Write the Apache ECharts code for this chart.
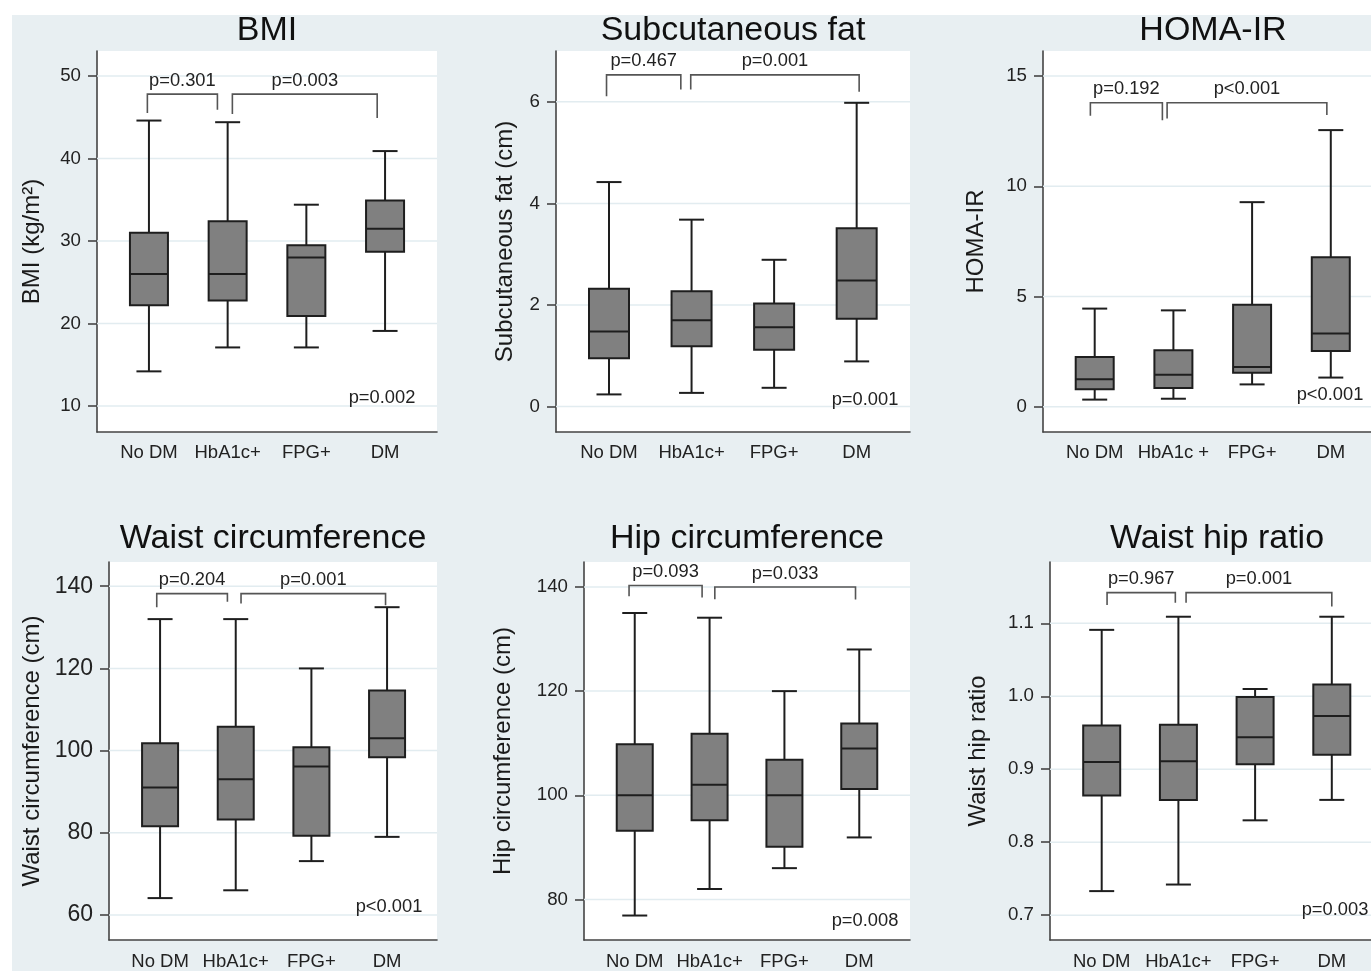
<!DOCTYPE html>
<html>
<head>
<meta charset="utf-8">
<script src="https://cdn.jsdelivr.net/npm/echarts@6/dist/echarts.min.js"></script>
<style>
  html, body { margin: 0; padding: 0; background: #fff; }
  #bg { position: absolute; left: 12px; top: 15px; right: 0; bottom: 0; background: #e8eff2; }
  #chart { position: absolute; left: 0; top: 0; width: 1371px; height: 971px; }
</style>
</head>
<body>
<div id="bg"></div>
<div id="chart"></div>
<script>
const FONT = '"Liberation Sans", Arial, sans-serif';

const groups = ['No DM', 'HbA1c+', 'FPG+', 'DM'];
const homaGroups = ['No DM', 'HbA1c +', 'FPG+', 'DM'];

// min, Q1, median, Q3, max for each group
const bmiBox = [
  [14.2, 22.2, 26.0, 31.0, 44.6],
  [17.1, 22.8, 26.0, 32.4, 44.4],
  [17.1, 20.9, 28.0, 29.5, 34.4],
  [19.1, 28.7, 31.5, 34.9, 40.9]
];
const fatBox = [
  [0.24, 0.95, 1.48, 2.32, 4.42],
  [0.27, 1.19, 1.70, 2.27, 3.68],
  [0.37, 1.12, 1.56, 2.03, 2.89],
  [0.89, 1.73, 2.48, 3.51, 5.98]
];
const homaBox = [
  [0.32, 0.79, 1.24, 2.25, 4.45],
  [0.36, 0.85, 1.45, 2.56, 4.37],
  [1.01, 1.54, 1.80, 4.63, 9.28],
  [1.32, 2.53, 3.32, 6.78, 12.55]
];
const waistBox = [
  [64.1, 81.6, 91.0, 101.8, 132.0],
  [66.0, 83.2, 93.0, 105.8, 132.0],
  [73.1, 79.3, 96.1, 100.8, 120.0],
  [79.0, 98.4, 103.0, 114.6, 134.9]
];
const hipBox = [
  [76.9, 93.2, 100.0, 109.8, 135.0],
  [82.0, 95.2, 102.0, 111.8, 134.1],
  [86.0, 90.1, 100.0, 106.8, 120.0],
  [91.9, 101.2, 109.0, 113.8, 128.0]
];
const whrBox = [
  [0.733, 0.864, 0.910, 0.960, 1.091],
  [0.742, 0.858, 0.911, 0.961, 1.109],
  [0.830, 0.907, 0.944, 0.999, 1.010],
  [0.858, 0.920, 0.973, 1.016, 1.109]
];

const bmiTicks = [10, 20, 30, 40, 50];
const fatTicks = [0, 2, 4, 6];
const homaTicks = [0, 5, 10, 15];
const waistTicks = [60, 80, 100, 120, 140];
const hipTicks = [80, 100, 120, 140];
const whrTicks = [0.7, 0.8, 0.9, 1.0, 1.1];

// No DM vs HbA1c+, HbA1c+ vs DM, overall
const bmiP = ['p=0.301', 'p=0.003', 'p=0.002'];
const fatP = ['p=0.467', 'p=0.001', 'p=0.001'];
const homaP = ['p=0.192', 'p<0.001', 'p<0.001'];
const waistP = ['p=0.204', 'p=0.001', 'p<0.001'];
const hipP = ['p=0.093', 'p=0.033', 'p=0.008'];
const whrP = ['p=0.967', 'p=0.001', 'p=0.003'];

// layout of each panel; brackets are [xLeft, xRight, yTop, yLeftEnd, yRightEnd]
// right-hand panels run off the page edge, so their x range stops at the edge
const panels = [
  { title: 'BMI', yName: 'BMI (kg/m²)', cats: groups, box: bmiBox, ticks: bmiTicks, p: bmiP,
    grid: [97, 51, 340, 381], xr: [0.34, 4.66], yr: [6.85, 53.03], boxW: 38, nameGap: 53, tickFont: 18.7,
    titlePos: [267, 30.5], overallPos: [382, 398],
    brackets: [[0.98, 1.87, 47.8, 45.5, 45.9], [2.06, 3.90, 47.8, 45.4, 44.9]] },
  { title: 'Subcutaneous fat', yName: 'Subcutaneous fat (cm)', cats: groups, box: fatBox, ticks: fatTicks, p: fatP,
    grid: [556, 51, 354, 381], xr: [0.358, 4.646], yr: [-0.5, 7.0], boxW: 40, nameGap: 39, tickFont: 18.7,
    titlePos: [733, 30.5], overallPos: [865, 400],
    brackets: [[0.97, 1.87, 6.53, 6.11, 6.24], [1.99, 4.03, 6.53, 6.24, 6.20]] },
  { title: 'HOMA-IR', yName: 'HOMA-IR', cats: homaGroups, box: homaBox, ticks: homaTicks, p: homaP,
    grid: [1043, 51, 328, 381], xr: [0.343, 4.511], yr: [-1.15, 16.14], boxW: 38, nameGap: 55, tickFont: 18.7,
    titlePos: [1213, 30.5], overallPos: [1330, 395],
    brackets: [[0.945, 1.86, 13.79, 13.2, 13.0], [1.92, 3.95, 13.79, 13.08, 13.23]] },
  { title: 'Waist circumference', yName: 'Waist circumference (cm)', cats: groups, box: waistBox, ticks: waistTicks, p: waistP,
    grid: [109, 562, 328, 380], xr: [0.325, 4.66], yr: [53.9, 145.9], boxW: 36, nameGap: 65, tickFont: 23,
    titlePos: [273, 538.5], overallPos: [389, 906.5],
    brackets: [[0.956, 1.89, 138.2, 134.9, 136.2], [2.07, 3.98, 138.2, 135.8, 135.4]] },
  { title: 'Hip circumference', yName: 'Hip circumference (cm)', cats: groups, box: hipBox, ticks: hipTicks, p: hipP,
    grid: [584, 562, 326, 380], xr: [0.322, 4.678], yr: [72.2, 144.8], boxW: 36, nameGap: 69, tickFont: 18.7,
    titlePos: [747, 538.5], overallPos: [865, 921],
    brackets: [[0.924, 1.90, 140.3, 138.2, 138.0], [2.07, 3.95, 140.0, 137.65, 137.6]] },
  { title: 'Waist hip ratio', yName: 'Waist hip ratio', cats: groups, box: whrBox, ticks: whrTicks, p: whrP,
    grid: [1050, 562, 321, 380], xr: [0.326, 4.511], yr: [0.666, 1.184], boxW: 37, nameGap: 60, tickFont: 18.7,
    titlePos: [1217, 538.5], overallPos: [1335, 909.5], decimals: 1,
    brackets: [[1.07, 1.96, 1.142, 1.125, 1.128], [2.10, 4.00, 1.142, 1.128, 1.123]] }
];

const CAP_W = 25;
const INK = '#1e1e1e';
const AXIS = '#444';

function gridLineItem(params, api) {
  const p = api.coord([api.value(0), api.value(1)]);
  const cs = params.coordSys;
  return {
    type: 'line',
    shape: { x1: cs.x, y1: p[1], x2: cs.x + cs.width, y2: p[1] },
    style: { stroke: '#e2ecf0', lineWidth: 1.5 }
  };
}

function boxItem(boxW) {
  return function (params, api) {
    const x = api.value(0);
    const pMin = api.coord([x, api.value(1)]);
    const pQ1 = api.coord([x, api.value(2)]);
    const pMed = api.coord([x, api.value(3)]);
    const pQ3 = api.coord([x, api.value(4)]);
    const pMax = api.coord([x, api.value(5)]);
    const cx = pMin[0];
    const ln = { stroke: INK, lineWidth: 2 };
    return {
      type: 'group',
      children: [
        { type: 'line', shape: { x1: cx, y1: pMax[1], x2: cx, y2: pQ3[1] }, style: ln },
        { type: 'line', shape: { x1: cx, y1: pQ1[1], x2: cx, y2: pMin[1] }, style: ln },
        { type: 'line', shape: { x1: cx - CAP_W / 2, y1: pMax[1], x2: cx + CAP_W / 2, y2: pMax[1] }, style: ln },
        { type: 'line', shape: { x1: cx - CAP_W / 2, y1: pMin[1], x2: cx + CAP_W / 2, y2: pMin[1] }, style: ln },
        { type: 'rect', shape: { x: cx - boxW / 2, y: pQ3[1], width: boxW, height: pQ1[1] - pQ3[1] },
          style: { fill: '#808080', stroke: INK, lineWidth: 2 } },
        { type: 'line', shape: { x1: cx - boxW / 2, y1: pMed[1], x2: cx + boxW / 2, y2: pMed[1] }, style: ln }
      ]
    };
  };
}

function bracketItem(labels) {
  return function (params, api) {
    const l = api.coord([api.value(0), api.value(2)]);
    const r = api.coord([api.value(1), api.value(2)]);
    const lb = api.coord([api.value(0), api.value(3)]);
    const rb = api.coord([api.value(1), api.value(4)]);
    return {
      type: 'group',
      children: [
        { type: 'polyline', shape: { points: [lb, l, r, rb] },
          style: { stroke: '#555', lineWidth: 1.6, fill: 'none' } },
        { type: 'text', x: (l[0] + r[0]) / 2, y: l[1] - 13.5,
          style: { text: labels[params.dataIndex], font: '18.3px ' + FONT, fill: '#222',
            align: 'center', verticalAlign: 'middle', textAlign: 'center', textVerticalAlign: 'middle' } }
      ]
    };
  };
}

const grids = [], xAxes = [], yAxes = [], series = [], graphics = [];

panels.forEach((pn, i) => {
  grids.push({
    left: pn.grid[0], top: pn.grid[1], width: pn.grid[2], height: pn.grid[3],
    show: true, backgroundColor: '#fff', borderWidth: 0, containLabel: false
  });
  xAxes.push({
    type: 'value', gridIndex: i, min: pn.xr[0], max: pn.xr[1],
    axisLine: { show: true, onZero: false, lineStyle: { color: AXIS, width: 1.6 } },
    axisTick: { show: false },
    splitLine: { show: false },
    axisLabel: {
      customValues: [1, 2, 3, 4],
      formatter: (v) => pn.cats[Math.round(v) - 1],
      margin: i < 3 ? 11 : 12,
      color: '#222', fontSize: 18.5, fontFamily: FONT
    }
  });
  yAxes.push({
    type: 'value', gridIndex: i, min: pn.yr[0], max: pn.yr[1],
    name: pn.yName, nameLocation: 'middle', nameGap: pn.nameGap, nameRotate: 90,
    nameTextStyle: { color: '#1a1a1a', fontSize: 24, fontFamily: FONT },
    axisLine: { show: true, onZero: false, lineStyle: { color: AXIS, width: 1.6 } },
    axisTick: { show: true, customValues: pn.ticks, length: 9, lineStyle: { color: AXIS, width: 1.6 } },
    splitLine: { show: false },
    axisLabel: {
      customValues: pn.ticks, margin: 16,
      formatter: (v) => pn.decimals ? v.toFixed(pn.decimals) : String(v),
      color: '#222', fontSize: pn.tickFont, fontFamily: FONT
    }
  });
  series.push({
    type: 'custom', xAxisIndex: i, yAxisIndex: i, z: 1, silent: true,
    data: pn.ticks.map((v) => [pn.xr[0], v]),
    encode: { x: 0, y: 1 },
    renderItem: gridLineItem
  });
  series.push({
    type: 'custom', xAxisIndex: i, yAxisIndex: i, z: 3,
    data: pn.box.map((b, k) => [k + 1].concat(b)),
    encode: { x: 0, y: [1, 2, 3, 4, 5] },
    renderItem: boxItem(pn.boxW)
  });
  series.push({
    type: 'custom', xAxisIndex: i, yAxisIndex: i, z: 4, silent: true,
    data: pn.brackets,
    encode: { x: [0, 1], y: [2, 3, 4] },
    renderItem: bracketItem(pn.p)
  });
  graphics.push({
    type: 'text', x: pn.titlePos[0], y: pn.titlePos[1], z: 100,
    style: { text: pn.title, font: '34px ' + FONT, fill: '#111',
      align: 'center', verticalAlign: 'middle', textAlign: 'center', textVerticalAlign: 'middle' }
  });
  graphics.push({
    type: 'text', x: pn.overallPos[0], y: pn.overallPos[1], z: 100,
    style: { text: pn.p[2], font: '18.3px ' + FONT, fill: '#222',
      align: 'center', verticalAlign: 'middle', textAlign: 'center', textVerticalAlign: 'middle' }
  });
});

const chart = echarts.init(document.getElementById('chart'), null, { renderer: 'canvas' });
chart.setOption({
  animation: false,
  grid: grids,
  xAxis: xAxes,
  yAxis: yAxes,
  series: series,
  graphic: { elements: graphics }
});
</script>
</body>
</html>
